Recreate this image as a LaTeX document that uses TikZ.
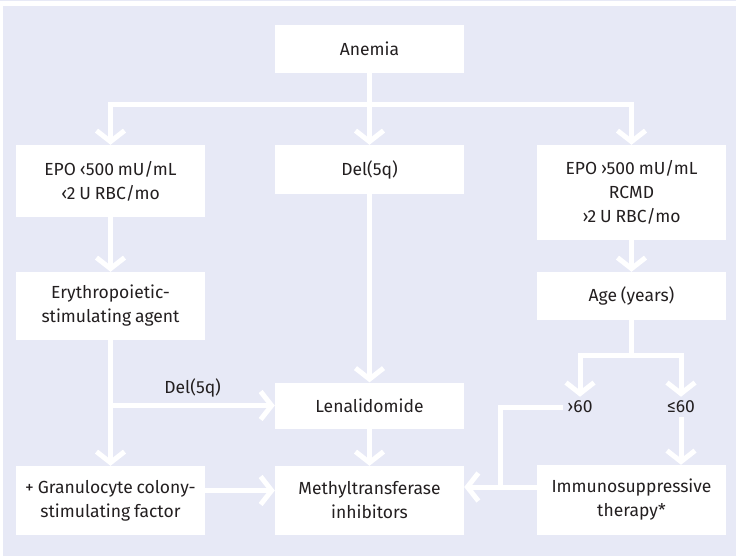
\documentclass[tikz,border=0pt]{standalone}
\usepackage{fontspec}
\setmainfont{Fira Sans}
\usetikzlibrary{arrows.meta}
\definecolor{panel}{RGB}{231,233,246}
\definecolor{ink}{RGB}{35,31,32}
\newcommand{\flowfont}{\fontsize{17.5}{24}\selectfont\spaceskip=0.22em plus 0.1em\relax}
\begin{document}
\begin{tikzpicture}[
    x=1pt, y=-1pt,
    every node/.style={font=\flowfont, text=ink},
    box/.style={fill=white, inner sep=0pt, align=center, minimum width=189pt},
    lbl/.style={inner sep=4pt},
    link/.style={draw=white, line width=5pt},
    flow/.style={link, -{Straight Barb[length=11pt, width=28pt]}}
]
    % backdrop
    \fill[white] (0,0) rectangle (736,556);
    \fill[panel] (0,0) rectangle (736,1.5);
    \fill[panel] (3,6) rectangle (736,556);
    % top node
    \node[box, minimum height=48pt] (anemia) at (369.5,49) {Anemia};
    % second row
    \node[box, minimum height=72pt] (epolow) at (110.5,181) {EPO ‹500 mU/mL\\‹2 U RBC/mo};
    \node[box, minimum height=49pt] (del) at (369.5,169.5) {Del(5q)};
    \node[box, minimum height=95pt] (epohigh) at (631.5,192.5) {EPO ›500 mU/mL\\RCMD\\›2 U RBC/mo};
    % third row
    \node[box, minimum height=68pt] (esa) at (110.5,306) {Erythropoietic-\\stimulating agent};
    \node[box, minimum height=48pt] (age) at (631.5,296) {Age (years)};
    \node[box, minimum height=46pt] (lena) at (369.5,405.5) {Lenalidomide};
    % age split
    \node[lbl] (gt60) at (580,407) {›60};
    \node[lbl] (le60) at (681,407) {≤60};
    % bottom row
    \node[box, minimum height=69pt] (gcsf) at (110.5,500.5) {+ Granulocyte colony-\\stimulating factor};
    \node[box, minimum height=69pt] (mtase) at (369.5,500.5) {Methyltransferase\\inhibitors};
    \node[box, minimum height=70pt] (ist) at (631.5,500) {Immunosuppressive\\therapy*};
    % branch points
    \coordinate (fork) at (369.5,105);
    \coordinate (agefork) at (631.5,355);
    \coordinate (join) at (500,487);
    % edges
    \draw[link] (anemia) -- (fork);
    \draw[flow] (fork) -| (epolow.north);
    \draw[flow] (fork) -- (del.north);
    \draw[flow] (fork) -| (epohigh.north);
    \draw[flow] (epolow) -- (esa);
    \draw[flow] (esa) -- (gcsf);
    \draw[flow] (esa.south |- lena.west) -- node[lbl, above=2pt, pos=0.5] (dellbl) {Del(5q)} (lena.west);
    \draw[flow] (del) -- (lena);
    \draw[flow] (lena) -- (mtase);
    \draw[flow] ([yshift=10pt]gcsf.east) -- ([yshift=10pt]mtase.east -| mtase.west);
    \draw[flow] (epohigh) -- (age);
    \draw[link] (age) -- (agefork);
    \draw[flow] (agefork) -| (gt60.north);
    \draw[flow] (agefork) -| (le60.north);
    \draw[flow] (le60.south) -- (le60.south |- ist.north);
    \draw[link] (gt60.west) -| (join);
    \draw[flow] (join -| ist.west) -- (join -| mtase.east);
\end{tikzpicture}
\end{document}
